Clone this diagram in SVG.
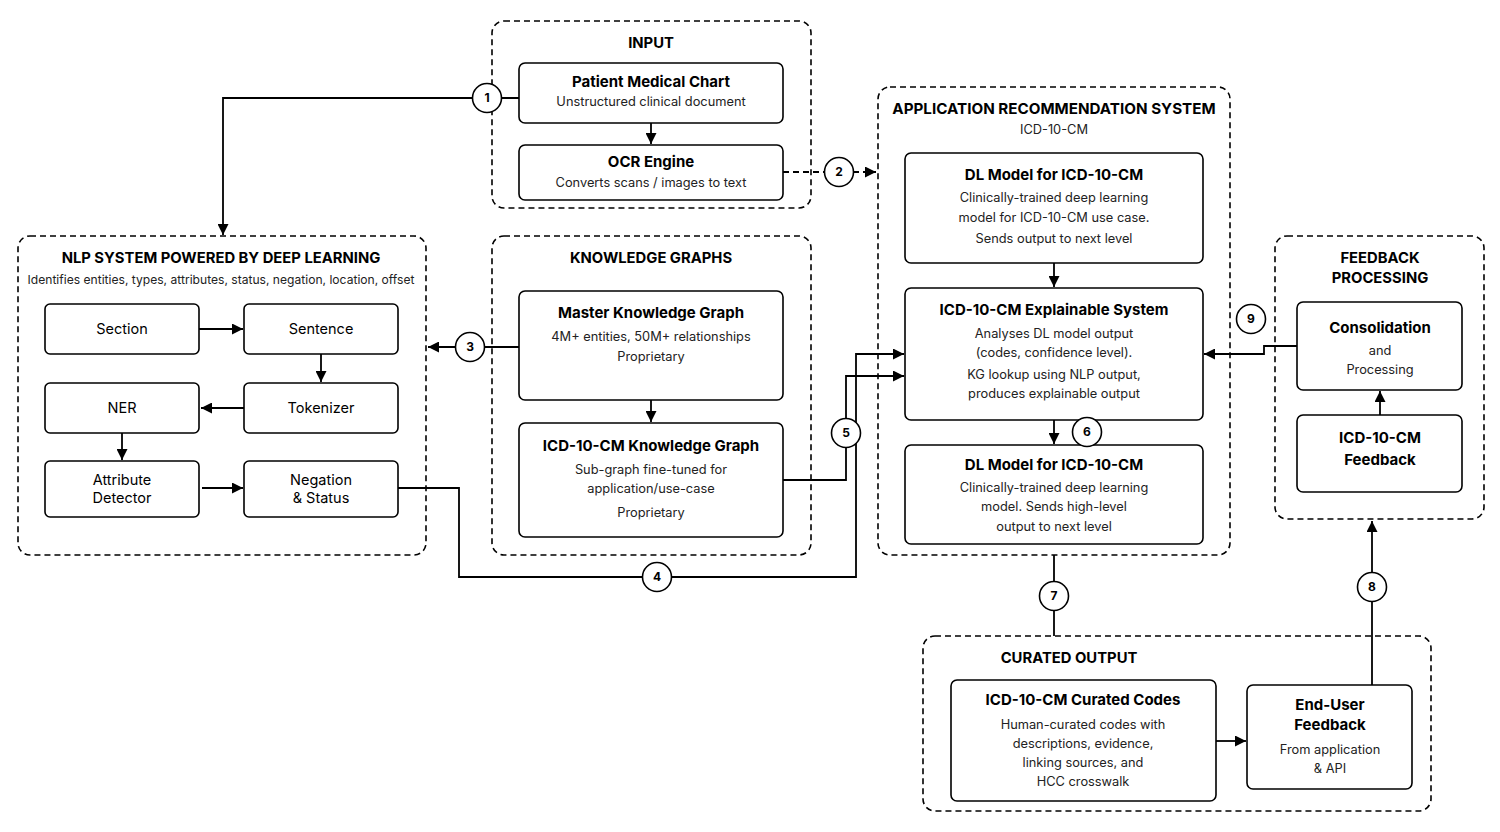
<svg xmlns="http://www.w3.org/2000/svg" width="1500" height="832" viewBox="0 0 1500 832">
<defs>
<marker id="ah" viewBox="0 0 10 10" refX="10" refY="5" markerWidth="11" markerHeight="11" markerUnits="userSpaceOnUse" orient="auto"><path d="M0,0 L10,5 L0,10 z" fill="#000"/></marker>
</defs>
<style>
.grp{fill:none;stroke:#000;stroke-width:1.6;stroke-dasharray:6 4}
.box{fill:#fff;stroke:#000;stroke-width:1.6}
.con{fill:none;stroke:#000;stroke-width:1.8}
.arr{marker-end:url(#ah)}
.dash{stroke-dasharray:6 4}
.gt{font-family:Inter,"Liberation Sans",sans-serif;font-weight:700;font-size:14.8px;fill:#000;text-anchor:middle}
.nt{font-family:Inter,"Liberation Sans",sans-serif;font-weight:700;font-size:15px;fill:#000;text-anchor:middle}
.st{font-family:Inter,"Liberation Sans",sans-serif;font-size:12.8px;fill:#222;text-anchor:middle}
.lt{font-family:Inter,"Liberation Sans",sans-serif;font-size:14.5px;fill:#000;text-anchor:middle}
.cc{fill:#fff;stroke:#000;stroke-width:1.6}
.ct{font-family:Inter,"Liberation Sans",sans-serif;font-weight:700;font-size:12px;fill:#000;text-anchor:middle}
</style>
<rect width="1500" height="832" fill="#fff"/>

<g id="input">
<rect class="grp" x="492" y="21" width="319" height="187" rx="12"/>
<text class="gt" x="651" y="48">INPUT</text>
</g>
<g id="patient-chart">
<rect class="box" x="519" y="63" width="264" height="60" rx="6"/>
<text class="nt" x="651" y="87">Patient Medical Chart</text>
<text class="st" x="651" y="106">Unstructured clinical document</text>
</g>
<g id="ocr">
<rect class="box" x="519" y="145" width="264" height="55" rx="6"/>
<text class="nt" x="651" y="167">OCR Engine</text>
<text class="st" x="651" y="187">Converts scans / images to text</text>
</g>

<g id="nlp">
<rect class="grp" x="18" y="236" width="408" height="319" rx="12"/>
<text class="gt" x="221" y="263">NLP SYSTEM POWERED BY DEEP LEARNING</text>
<text class="st" x="221" y="284" style="font-size:12.1px">Identifies entities, types, attributes, status, negation, location, offset</text>
</g>
<g id="section"><rect class="box" x="45" y="304" width="154" height="50" rx="5"/><text class="lt" x="122" y="334">Section</text></g>
<g id="sentence"><rect class="box" x="244" y="304" width="154" height="50" rx="5"/><text class="lt" x="321" y="334">Sentence</text></g>
<g id="ner"><rect class="box" x="45" y="383" width="154" height="50" rx="5"/><text class="lt" x="122" y="413">NER</text></g>
<g id="tokenizer"><rect class="box" x="244" y="383" width="154" height="50" rx="5"/><text class="lt" x="321" y="413">Tokenizer</text></g>
<g id="attribute"><rect class="box" x="45" y="461" width="154" height="56" rx="5"/><text class="lt" x="122" y="485">Attribute</text><text class="lt" x="122" y="503">Detector</text></g>
<g id="negation"><rect class="box" x="244" y="461" width="154" height="56" rx="5"/><text class="lt" x="321" y="485">Negation</text><text class="lt" x="321" y="503">&amp; Status</text></g>

<g id="kg">
<rect class="grp" x="492" y="236" width="319" height="319" rx="12"/>
<text class="gt" x="651" y="263">KNOWLEDGE GRAPHS</text>
</g>
<g id="master-kg">
<rect class="box" x="519" y="291" width="264" height="109" rx="6"/>
<text class="nt" x="651" y="318">Master Knowledge Graph</text>
<text class="st" x="651" y="341">4M+ entities, 50M+ relationships</text>
<text class="st" x="651" y="361">Proprietary</text>
</g>
<g id="icd-kg">
<rect class="box" x="519" y="423" width="264" height="114" rx="6"/>
<text class="nt" x="651" y="451">ICD-10-CM Knowledge Graph</text>
<text class="st" x="651" y="474">Sub-graph fine-tuned for</text>
<text class="st" x="651" y="493">application/use-case</text>
<text class="st" x="651" y="517">Proprietary</text>
</g>

<g id="app">
<rect class="grp" x="878" y="87" width="352" height="468" rx="12"/>
<text class="gt" x="1054" y="114" style="font-size:15.2px">APPLICATION RECOMMENDATION SYSTEM</text>
<text class="st" x="1054" y="134">ICD-10-CM</text>
</g>
<g id="dl1">
<rect class="box" x="905" y="153" width="298" height="110" rx="6"/>
<text class="nt" x="1054" y="180">DL Model for ICD-10-CM</text>
<text class="st" x="1054" y="202">Clinically-trained deep learning</text>
<text class="st" x="1054" y="222">model for ICD-10-CM use case.</text>
<text class="st" x="1054" y="243">Sends output to next level</text>
</g>
<g id="explainable">
<rect class="box" x="905" y="288" width="298" height="132" rx="6"/>
<text class="nt" x="1054" y="315">ICD-10-CM Explainable System</text>
<text class="st" x="1054" y="338">Analyses DL model output</text>
<text class="st" x="1054" y="357">(codes, confidence level).</text>
<text class="st" x="1054" y="379">KG lookup using NLP output,</text>
<text class="st" x="1054" y="398">produces explainable output</text>
</g>
<g id="dl2">
<rect class="box" x="905" y="445" width="298" height="99" rx="6"/>
<text class="nt" x="1054" y="470">DL Model for ICD-10-CM</text>
<text class="st" x="1054" y="492">Clinically-trained deep learning</text>
<text class="st" x="1054" y="511">model. Sends high-level</text>
<text class="st" x="1054" y="531">output to next level</text>
</g>

<g id="feedback">
<rect class="grp" x="1275" y="236" width="209" height="283" rx="12"/>
<text class="gt" x="1380" y="263">FEEDBACK</text>
<text class="gt" x="1380" y="283">PROCESSING</text>
</g>
<g id="consolidation">
<rect class="box" x="1297" y="302" width="165" height="88" rx="6"/>
<text class="nt" x="1380" y="333">Consolidation</text>
<text class="st" x="1380" y="355">and</text>
<text class="st" x="1380" y="374">Processing</text>
</g>
<g id="icd-feedback">
<rect class="box" x="1297" y="415" width="165" height="77" rx="6"/>
<text class="nt" x="1380" y="443">ICD-10-CM</text>
<text class="nt" x="1380" y="465">Feedback</text>
</g>

<g id="curated">
<rect class="grp" x="923" y="636" width="508" height="175" rx="12"/>
<text class="gt" x="1069" y="663">CURATED OUTPUT</text>
</g>
<g id="curated-codes">
<rect class="box" x="951" y="680" width="265" height="121" rx="6"/>
<text class="nt" x="1083" y="705">ICD-10-CM Curated Codes</text>
<text class="st" x="1083" y="729">Human-curated codes with</text>
<text class="st" x="1083" y="748">descriptions, evidence,</text>
<text class="st" x="1083" y="767">linking sources, and</text>
<text class="st" x="1083" y="786">HCC crosswalk</text>
</g>
<g id="end-user">
<rect class="box" x="1247" y="685" width="165" height="104" rx="6"/>
<text class="nt" x="1330" y="710">End-User</text>
<text class="nt" x="1330" y="730">Feedback</text>
<text class="st" x="1330" y="754">From application</text>
<text class="st" x="1330" y="773">&amp; API</text>
</g>

<g id="connectors">
<path class="con arr" d="M519,98 H223 V235"/>
<path class="con arr" d="M651,123 V144"/>
<path class="con arr dash" d="M783,172 H876"/>
<path class="con arr" d="M519,347 H428"/>
<path class="con arr" d="M199,329 H243"/>
<path class="con arr" d="M321,354 V382"/>
<path class="con arr" d="M244,408 H201"/>
<path class="con arr" d="M122,433 V460"/>
<path class="con arr" d="M202,488 H243"/>
<path class="con arr" d="M651,400 V422"/>
<path class="con arr" d="M398,488 H459 V577 H856 V354 H904"/>
<path class="con arr" d="M783,480 H846 V376 H904"/>
<path class="con arr" d="M1054,263 V287"/>
<path class="con arr" d="M1054,420 V444"/>
<path class="con" d="M1054,555 V636"/>
<path class="con arr" d="M1372,685 V521"/>
<path class="con arr" d="M1297,346 H1264 V354 H1204"/>
<path class="con arr" d="M1216,741 H1246"/>
<path class="con arr" d="M1380,415 V391"/>
<circle class="cc" cx="487" cy="98" r="14.5"/><text class="ct" x="487" y="102">1</text>
<circle class="cc" cx="839" cy="172" r="14.5"/><text class="ct" x="839" y="176">2</text>
<circle class="cc" cx="470" cy="347" r="14.5"/><text class="ct" x="470" y="351">3</text>
<circle class="cc" cx="657" cy="577" r="14.5"/><text class="ct" x="657" y="581">4</text>
<circle class="cc" cx="846" cy="433" r="14.5"/><text class="ct" x="846" y="437">5</text>
<circle class="cc" cx="1087" cy="432" r="14.5"/><text class="ct" x="1087" y="436">6</text>
<circle class="cc" cx="1054" cy="596" r="14.5"/><text class="ct" x="1054" y="600">7</text>
<circle class="cc" cx="1372" cy="587" r="14.5"/><text class="ct" x="1372" y="591">8</text>
<circle class="cc" cx="1251" cy="319" r="14.5"/><text class="ct" x="1251" y="323">9</text>
</g>
</svg>
